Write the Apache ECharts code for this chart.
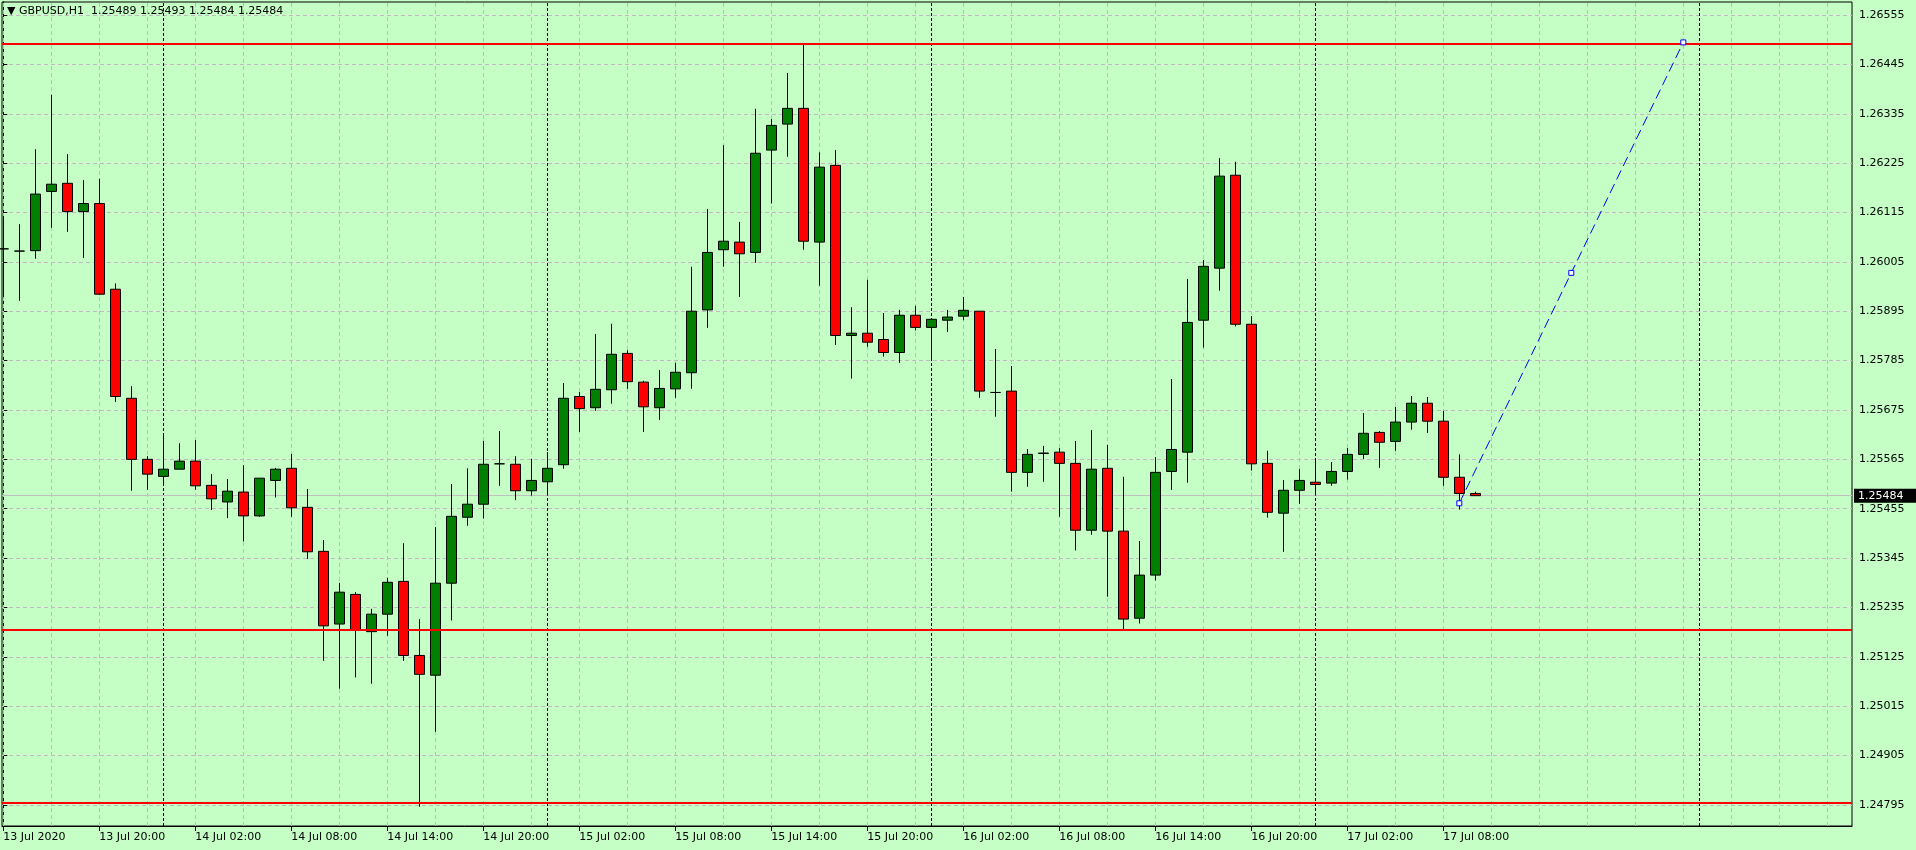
<!DOCTYPE html>
<html>
<head>
<meta charset="utf-8">
<title>GBPUSD,H1</title>
<script src="https://cdn.jsdelivr.net/npm/echarts@6/dist/echarts.min.js"></script>
<style>
  html, body { margin: 0; padding: 0; background: #c6ffc6; }
  #main { width: 1916px; height: 850px; }
</style>
</head>
<body>
<div id="main"></div>
<script>
// GBPUSD H1, 13 Jul 14:00 .. 17 Jul 10:00 (one bar per hour)
var opens = [
  1.26034, 1.26029, 1.26030, 1.26162, 1.26180, 1.26117, 1.26135, 1.25944, 1.25701, 1.25565,
  1.25527, 1.25543, 1.25561, 1.25507, 1.25470, 1.25492, 1.25439, 1.25518, 1.25545, 1.25458,
  1.25360, 1.25198, 1.25264, 1.25181, 1.25220, 1.25293, 1.25128, 1.25084, 1.25289, 1.25436,
  1.25465, 1.25555, 1.25554, 1.25495, 1.25515, 1.25553, 1.25705, 1.25680, 1.25720, 1.25801,
  1.25737, 1.25680, 1.25722, 1.25758, 1.25898, 1.26032, 1.26049, 1.26026, 1.26254, 1.26312,
  1.26347, 1.26049, 1.26220, 1.25841, 1.25846, 1.25832, 1.25803, 1.25886, 1.25859, 1.25875,
  1.25884, 1.25895, 1.25714, 1.25717, 1.25536, 1.25578, 1.25581, 1.25556, 1.25407, 1.25545,
  1.25405, 1.25211, 1.25307, 1.25538, 1.25581, 1.25875, 1.25991, 1.26198, 1.25866, 1.25556,
  1.25445, 1.25496, 1.25514, 1.25512, 1.25538, 1.25576, 1.25625, 1.25605, 1.25648, 1.25690,
  1.25650, 1.25525, 1.25489
]
var highs = [
  1.26107, 1.26089, 1.26256, 1.26377, 1.26245, 1.26187, 1.26190, 1.25957, 1.25728, 1.25572,
  1.25623, 1.25601, 1.25608, 1.25532, 1.25521, 1.25552, 1.25523, 1.25546, 1.25577, 1.25499,
  1.25385, 1.25290, 1.25269, 1.25232, 1.25301, 1.25378, 1.25209, 1.25414, 1.25510, 1.25545,
  1.25606, 1.25628, 1.25572, 1.25566, 1.25581, 1.25735, 1.25715, 1.25844, 1.25867, 1.25808,
  1.25740, 1.25764, 1.25780, 1.25994, 1.26123, 1.26265, 1.26094, 1.26346, 1.26323, 1.26426,
  1.26488, 1.26249, 1.26254, 1.25904, 1.25965, 1.25891, 1.25898, 1.25907, 1.25880, 1.25898,
  1.25927, 1.25895, 1.25811, 1.25773, 1.25588, 1.25595, 1.25590, 1.25606, 1.25630, 1.25597,
  1.25526, 1.25383, 1.25570, 1.25744, 1.25967, 1.26009, 1.26236, 1.26228, 1.25884, 1.25584,
  1.25519, 1.25543, 1.25567, 1.25559, 1.25590, 1.25668, 1.25628, 1.25682, 1.25706, 1.25704,
  1.25673, 1.25576, 1.25493
]
var lows = [
  1.25926, 1.25918, 1.26012, 1.26081, 1.26072, 1.26014, 1.25931, 1.25693, 1.25495, 1.25497,
  1.25508, 1.25543, 1.25497, 1.25452, 1.25434, 1.25382, 1.25437, 1.25480, 1.25437, 1.25343,
  1.25116, 1.25054, 1.25079, 1.25065, 1.25172, 1.25116, 1.24791, 1.24958, 1.25206, 1.25417,
  1.25433, 1.25506, 1.25474, 1.25484, 1.25484, 1.25544, 1.25626, 1.25673, 1.25689, 1.25722,
  1.25626, 1.25653, 1.25702, 1.25722, 1.25858, 1.25994, 1.25927, 1.26003, 1.26135, 1.26239,
  1.26032, 1.25952, 1.25820, 1.25745, 1.25816, 1.25794, 1.25780, 1.25852, 1.25789, 1.25849,
  1.25875, 1.25702, 1.25660, 1.25493, 1.25504, 1.25515, 1.25437, 1.25362, 1.25397, 1.25259,
  1.25187, 1.25199, 1.25295, 1.25497, 1.25513, 1.25814, 1.25941, 1.25861, 1.25540, 1.25435,
  1.25359, 1.25466, 1.25484, 1.25506, 1.25520, 1.25566, 1.25546, 1.25584, 1.25631, 1.25624,
  1.25506, 1.25453, 1.25484
]
var closes = [
  1.26034, 1.26029, 1.26156, 1.26178, 1.26117, 1.26135, 1.25933, 1.25705, 1.25565, 1.25532,
  1.25543, 1.25561, 1.25506, 1.25477, 1.25494, 1.25439, 1.25523, 1.25543, 1.25457, 1.25359,
  1.25194, 1.25269, 1.25184, 1.25220, 1.25291, 1.25128, 1.25086, 1.25289, 1.25438, 1.25465,
  1.25554, 1.25555, 1.25495, 1.25518, 1.25545, 1.25701, 1.25678, 1.25721, 1.25799, 1.25738,
  1.25682, 1.25723, 1.25759, 1.25895, 1.26026, 1.26051, 1.26023, 1.26247, 1.26309, 1.26347,
  1.26051, 1.26216, 1.25841, 1.25846, 1.25826, 1.25803, 1.25886, 1.25859, 1.25877, 1.25882,
  1.25897, 1.25717, 1.25714, 1.25536, 1.25576, 1.25579, 1.25556, 1.25407, 1.25543, 1.25405,
  1.25209, 1.25307, 1.25536, 1.25587, 1.25870, 1.25995, 1.26196, 1.25866, 1.25555, 1.25447,
  1.25496, 1.25518, 1.25509, 1.25538, 1.25576, 1.25623, 1.25603, 1.25648, 1.25690, 1.25650,
  1.25525, 1.25489, 1.25484
]

// time axis labels, one every 6 bars
var labelBars = [0, 6, 12, 18, 24, 30, 36, 42, 48, 54, 60, 66, 72, 78, 84, 90]
var timeLabels = [
  '13 Jul 2020', '13 Jul 20:00', '14 Jul 02:00', '14 Jul 08:00', '14 Jul 14:00', '14 Jul 20:00',
  '15 Jul 02:00', '15 Jul 08:00', '15 Jul 14:00', '15 Jul 20:00', '16 Jul 02:00', '16 Jul 08:00',
  '16 Jul 14:00', '16 Jul 20:00', '17 Jul 02:00', '17 Jul 08:00'
]
// midnight bars (period separators)
var dayBars = [10, 34, 58, 82, 106]
var priceTicks = [
  1.24795, 1.24905, 1.25015, 1.25125, 1.25235, 1.25345, 1.25455, 1.25565, 1.25675,
  1.25785, 1.25895, 1.26005, 1.26115, 1.26225, 1.26335, 1.26445, 1.26555
]
// horizontal lines drawn on the chart
var levels = [1.26492, 1.25186, 1.24800]
var bidPrice = 1.25484
// trend line: bar index, price
var trendBars = [91, 98, 105]
var trendPrices = [1.25467, 1.259805, 1.26494]

var FONT = 'DejaVu Sans'
var gridColor = '#c4b8c4'

var candleData = opens.map(function (o, i) {
  return [i, o, closes[i], lows[i], highs[i]]
})
var trendData = trendBars.map(function (b, i) { return [b, trendPrices[i]] })

var bgLines = []
for (var g = 0; g <= 114; g += 3) {
  bgLines.push({ xAxis: g, lineStyle: { color: gridColor, type: [4, 3], width: 1 } })
}
dayBars.forEach(function (b) {
  bgLines.push({ xAxis: b, lineStyle: { color: '#000', type: [3, 2], width: 1 } })
})
bgLines.push({
  yAxis: bidPrice,
  lineStyle: { color: '#c0c0c0', type: 'solid', width: 1 },
  label: {
    show: true,
    position: 'end',
    distance: 2,
    formatter: bidPrice.toFixed(5),
    color: '#fff',
    backgroundColor: '#000',
    fontFamily: FONT,
    fontSize: 11,
    padding: [2, 14, 1, 4]
  }
})

var chart = echarts.init(document.getElementById('main'))
chart.setOption({
  animation: false,
  backgroundColor: '#c6ffc6',
  title: {
    text: '\u25BC GBPUSD,H1  1.25489 1.25493 1.25484 1.25484',
    left: 7,
    top: 6,
    padding: 0,
    textStyle: { fontFamily: FONT, fontSize: 11, fontWeight: 'normal', color: '#000' }
  },
  grid: {
    left: 2,
    top: 2,
    right: 64,
    bottom: 24,
    show: true,
    borderColor: '#000',
    borderWidth: 1,
    backgroundColor: 'transparent',
    outerBoundsMode: 'none'
  },
  xAxis: {
    type: 'value',
    min: -0.08125,
    max: 115.54375,
    axisLine: { show: true, lineStyle: { color: '#000', width: 1 } },
    axisTick: { show: true, length: 5, customValues: labelBars, lineStyle: { color: '#000' } },
    axisLabel: {
      customValues: labelBars,
      formatter: function (v) { return timeLabels[labelBars.indexOf(Math.round(v))] },
      align: 'left',
      margin: 6,
      color: '#000',
      fontFamily: FONT,
      fontSize: 11
    },
    splitLine: { show: false }
  },
  yAxis: {
    type: 'value',
    position: 'right',
    min: 1.24748,
    max: 1.26584,
    axisLine: { show: true, lineStyle: { color: '#000', width: 1 } },
    axisTick: { show: true, length: 4, customValues: priceTicks, lineStyle: { color: '#000' } },
    axisLabel: {
      customValues: priceTicks,
      formatter: function (v) { return v.toFixed(5) },
      margin: 7,
      color: '#000',
      fontFamily: FONT,
      fontSize: 11
    },
    splitLine: { show: true, lineStyle: { color: gridColor, type: [4, 3], width: 1 } }
  },
  series: [
    {
      // grid / separators / bid line, behind the bars
      type: 'line',
      data: [],
      z: 1,
      silent: true,
      markLine: {
        z: 1,
        silent: true,
        symbol: 'none',
        precision: 6,
        animation: false,
        label: { show: false },
        data: bgLines
      }
    },
    {
      type: 'candlestick',
      name: 'GBPUSD',
      z: 3,
      barWidth: 10,
      data: candleData,
      itemStyle: {
        color: '#008000',
        color0: '#ff0000',
        borderColor: '#000',
        borderColor0: '#000',
        borderColorDoji: '#000',
        borderWidth: 1
      }
    },
    {
      // horizontal levels on top of the bars
      type: 'line',
      data: [],
      z: 4,
      silent: true,
      markLine: {
        z: 5,
        silent: true,
        symbol: 'none',
        precision: 6,
        animation: false,
        label: { show: false },
        lineStyle: { color: '#ff0000', width: 2, type: 'solid' },
        data: levels.map(function (p) { return { yAxis: p } })
      }
    },
    {
      type: 'line',
      z: 6,
      data: trendData,
      symbol: 'rect',
      symbolSize: 5,
      showAllSymbol: true,
      lineStyle: { color: '#0000ff', width: 1, type: [10, 5] },
      itemStyle: { color: '#ffffff', borderColor: '#0000ff', borderWidth: 1 }
    }
  ]
})
</script>
</body>
</html>
